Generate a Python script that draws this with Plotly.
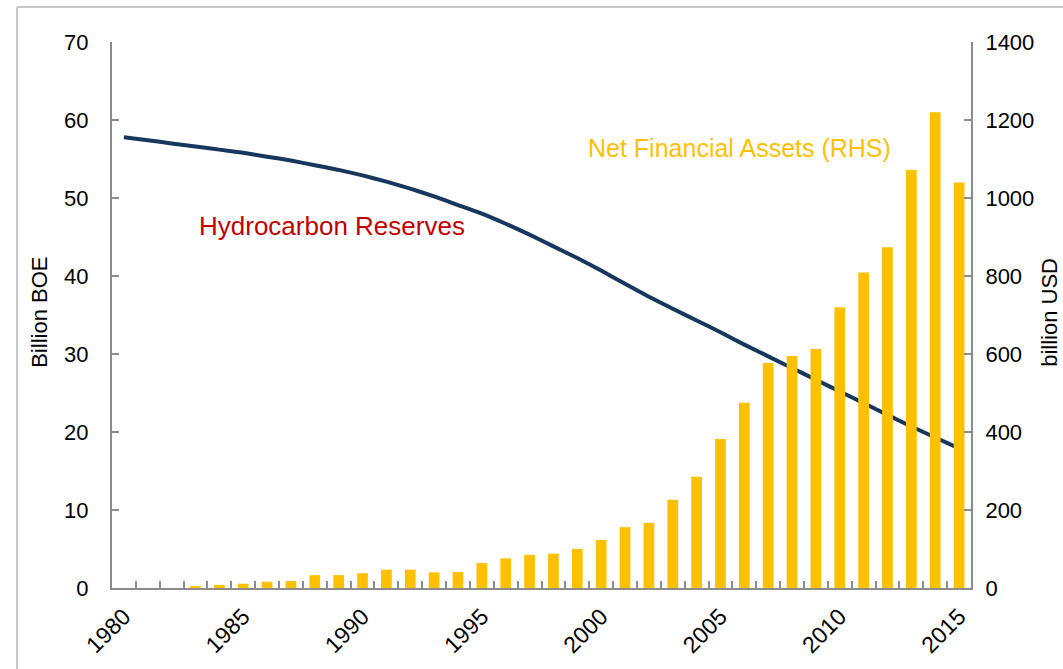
import plotly.graph_objects as go

years = list(range(1980, 2016))
reserves = [57.8, 57.4, 57.0, 56.6, 56.2, 55.8, 55.3, 54.8, 54.2, 53.6,
            52.9, 52.1, 51.2, 50.2, 49.1, 48.0, 46.7, 45.3, 43.8, 42.3,
            40.7, 39.0, 37.35, 35.8, 34.3, 32.8, 31.2, 29.7, 28.2, 26.7,
            25.2, 23.7, 22.2, 20.7, 19.3, 17.9]
assets = [0, 0, 0, 5, 8, 11, 16, 18, 33, 33,
          38, 47, 47, 40, 41, 64, 76, 85, 88, 100,
          123, 156, 167, 226, 285, 382, 475, 577, 595, 613,
          720, 809, 874, 1072, 1220, 1040]
label_years = [1980, 1985, 1990, 1995, 2000, 2005, 2010, 2015]

FONT = "Liberation Sans, Arial"
AXC = "#8c8c8c"

fig = go.Figure()
fig.add_trace(go.Bar(x=years, y=assets, yaxis="y2", marker_color="#FFC000",
                     marker_line_width=0, width=0.45, name="Net Financial Assets (RHS)"))
fig.add_trace(go.Scatter(x=years, y=reserves, mode="lines", yaxis="y",
                         line=dict(color="#17375E", width=4, shape="spline", smoothing=0.4),
                         name="Hydrocarbon Reserves"))

W, H = 1063, 669
L, R, T, B = 112, 92, 42, 81
pw, ph = W - L - R, H - T - B

def px(x):
    return (x - L) / pw

def py(y):
    return (H - B - y) / ph

fig.update_layout(
    width=W, height=H,
    margin=dict(l=L, r=R, t=T, b=B, autoexpand=False),
    paper_bgcolor="white", plot_bgcolor="white",
    showlegend=False,
    font=dict(family=FONT, size=22, color="#000000"),
    xaxis=dict(range=[1979.5, 2015.5], tickvals=label_years,
               ticktext=[str(v) for v in label_years], tickangle=-45,
               ticks="", showgrid=False, zeroline=False, automargin=False,
               showline=True, linecolor=AXC, linewidth=2, ticklabelstandoff=4,
               minor=dict(tickvals=[y + 0.5 for y in range(1980, 2015)],
                          ticks="inside", ticklen=7, tickcolor=AXC, tickwidth=2,
                          showgrid=False),
               tickfont=dict(size=23)),
    yaxis=dict(range=[0, 70], dtick=10, ticks="inside", ticklen=7, tickcolor=AXC,
               tickwidth=2, showline=True, linecolor=AXC, linewidth=2, automargin=False,
               showgrid=False, zeroline=False, ticklabelstandoff=17),
    yaxis2=dict(range=[0, 1400], dtick=200, overlaying="y", side="right",
                ticks="inside", ticklen=7, tickcolor=AXC, tickwidth=2, automargin=False,
                showline=True, linecolor=AXC, linewidth=2,
                showgrid=False, zeroline=False, ticklabelstandoff=8),
)

fig.add_annotation(x=px(40), y=0.504, xref="paper", yref="paper", text="Billion BOE",
                   textangle=-90, showarrow=False, xanchor="center", yanchor="middle",
                   font=dict(size=22))
fig.add_annotation(x=px(1050), y=0.504, xref="paper", yref="paper", text="billion USD",
                   textangle=-90, showarrow=False, xanchor="center", yanchor="middle",
                   font=dict(size=22))
fig.add_annotation(x=px(332), y=py(226), xref="paper", yref="paper",
                   text="Hydrocarbon Reserves", showarrow=False,
                   xanchor="center", yanchor="middle",
                   font=dict(size=26, color="#C00000"))
fig.add_annotation(x=px(739), y=py(148), xref="paper", yref="paper",
                   text="Net Financial Assets (RHS)", showarrow=False,
                   xanchor="center", yanchor="middle",
                   font=dict(size=25, color="#FFC000"))

# outer frame
fig.add_shape(type="line", xref="paper", yref="paper", x0=px(17), x1=px(17),
              y0=py(7), y1=py(700), line=dict(color="#c8c8c8", width=2))
fig.add_shape(type="line", xref="paper", yref="paper", x0=px(17), x1=px(1100),
              y0=py(7), y1=py(7), line=dict(color="#c8c8c8", width=2))

fig.write_html("out.html", config={"displayModeBar": False},
               post_script="document.body.style.margin='0';document.body.style.overflow='hidden';")
